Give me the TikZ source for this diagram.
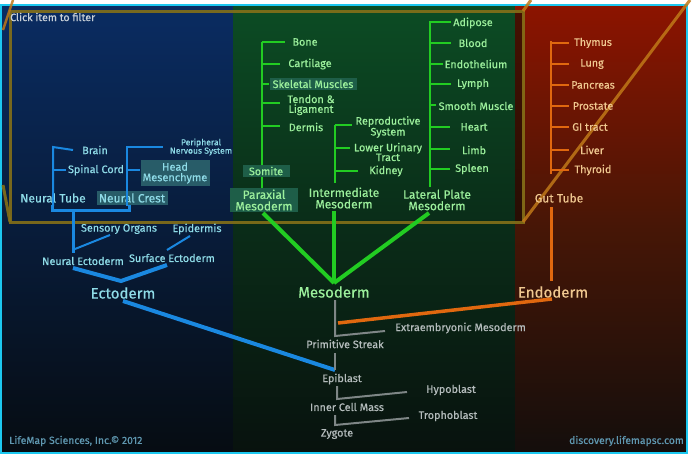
\documentclass[tikz,border=0pt]{standalone}
\usepackage{fontspec}
\setmainfont{Fira Sans}[FakeBold=0.5]
\definecolor{ecT}{HTML}{8FDCE8}
\definecolor{ecL}{HTML}{1A88E0}
\definecolor{meT}{HTML}{9CF09C}
\definecolor{meL}{HTML}{22CC22}
\definecolor{enT}{HTML}{F0C890}
\definecolor{enL}{HTML}{E0680F}
\definecolor{grT}{HTML}{B4BCBC}
\definecolor{grL}{HTML}{7E8686}
\definecolor{frameC}{HTML}{1CC8F0}
\definecolor{olive}{HTML}{857018}
\definecolor{diag}{HTML}{C07818}
\definecolor{ecBox}{HTML}{285C68}
\definecolor{meBox}{HTML}{1E5E48}
\definecolor{footC}{HTML}{5F97B0}
\tikzset{
  lab/.style={inner sep=1pt, font=\fontsize{10.8}{10.5}\selectfont, align=center},
  ect/.style={lab, text=ecT},
  met/.style={lab, text=meT},
  ent/.style={lab, text=enT},
  grt/.style={lab, text=grT},
  mid/.style={font=\fontsize{12}{11.5}\selectfont},
  big/.style={inner sep=1pt, font=\fontsize{15}{15}\selectfont},
  ebox/.style={fill=ecBox, inner sep=2pt},
  mbox/.style={fill=meBox, inner sep=2pt},
  eline/.style={draw=ecL, line width=2pt},
  ethick/.style={draw=ecL, line width=4pt},
  mline/.style={draw=meL, line width=2pt},
  mthick/.style={draw=meL, line width=4pt},
  nline/.style={draw=enL, line width=2pt},
  nthick/.style={draw=enL, line width=3.5pt},
  gline/.style={draw=grL, line width=2pt},
}
\begin{document}
\begin{tikzpicture}[x=1pt,y=-1pt]
\useasboundingbox (0,0) rectangle (692,455);
\fill[white] (0,0) rectangle (692,455);
% panels
\shade[top color={rgb,255:red,10;green,44;blue,98}, bottom color={rgb,255:red,6;green,12;blue,18}, middle color={rgb,255:red,8;green,28;blue,58}] (2,6) rectangle (233,452);
\shade[top color={rgb,255:red,12;green,76;blue,36}, bottom color={rgb,255:red,8;green,18;blue,14}, middle color={rgb,255:red,10;green,44;blue,24}] (233,6) rectangle (515,452);
\shade[top color={rgb,255:red,140;green,20;blue,0}, bottom color={rgb,255:red,20;green,14;blue,12}, middle color={rgb,255:red,70;green,22;blue,6}] (515,6) rectangle (686,452);
\shade[top color={rgb,255:red,70;green,16;blue,2}, bottom color={rgb,255:red,40;green,14;blue,4}] (515,10) rectangle (523,222);
\draw[frameC, line width=2pt] (1,5) rectangle (687,453);
% zoom rectangle and perspective lines
\draw[olive, opacity=0.9, line width=3pt] (10,11) rectangle (523,222);
\draw[diag, opacity=0.85, line width=3pt] (523,222) -- (690,0);
\draw[diag, opacity=0.85, line width=3pt] (523,11) -- (531,0);
\draw[diag, opacity=0.85, line width=2.5pt] (13,0) -- (3,30);
\draw[olive, opacity=0.9, line width=3pt] (10,222) -- (3,185);
\node[anchor=west, inner sep=0pt, text={rgb,255:red,200;green,208;blue,216}, font=\fontsize{10.6}{10}\selectfont] (click) at (10,17) {Click item to filter};

% ================= ECTODERM =================
\node[ect] (brain) at (95,150) {Brain};
\node[ect] (spinal) at (96,170) {Spinal Cord};
\node[ect, font=\fontsize{8.6}{8.4}\selectfont] (pns) at (201,147) {Peripheral\\Nervous System};
\node[ect, ebox, font=\fontsize{11}{10.5}\selectfont, minimum width=69pt] (headm) at (175,173) {Head\\Mesenchyme};
\node[ect, mid] (ntube) at (53,198) {Neural Tube};
\node[ect, mid, ebox, minimum width=71pt] (ncrest) at (132,198) {Neural Crest};
\node[ect] (sensory) at (119,229) {Sensory Organs};
\node[ect] (epid) at (197,229) {Epidermis};
\node[ect] (nect) at (83,261) {Neural Ectoderm};
\node[ect] (sect) at (172,258) {Surface Ectoderm};
\node[big, text=ecT] (ecto) at (123,293) {Ectoderm};

\coordinate (ntTop) at (53,147);
\coordinate (ntBot) at (53,206);
\draw[eline] (ntBot) -- (ntTop) -- (brain.west -| 73,0);
\draw[eline] (53,170) -- (66,170);
\coordinate (ncTop) at (127,147);
\coordinate (ncBot) at (127,206);
\draw[eline] (ncBot) -- (ncTop) -- (163,147);
\draw[eline] (127,170) -- (headm.west |- 0,170);
\draw[draw=ecL, line width=3pt] (52,205) -- (52,210) -- (129,210) -- (129,205);
\coordinate (brk) at (73,210);
\draw[draw=ecL, line width=3pt] (brk) -- (73,253);
\draw[eline] (75,249) -- (110,235);
\draw[eline] (167,250) -- (190,236);
\coordinate (ecJ) at (121,281);
\draw[ethick] (73,268) -- (ecJ) -- (167,265);
\coordinate (epiJ) at (335,370);
\draw[ethick] (123,301) -- (epiJ);

% ================= MESODERM =================
\coordinate (paTop) at (262,42);
\draw[mline] (paTop) -- (262,188);
\node[met] (bone) at (305,42) {Bone};
\node[met] (cart) at (310,64) {Cartilage};
\node[met, mbox, inner sep=1.5pt, minimum width=87pt] (skel) at (313,84) {Skeletal Muscles};
\node[met, font=\fontsize{10.8}{9.8}\selectfont] (tendon) at (311,105) {Tendon \&\\Ligament};
\node[met] (dermis) at (306,127) {Dermis};
\draw[mline] (262,42) -- (285,42);
\draw[mline] (262,64) -- (280,64);
\draw[mline] (262,84) -- (skel.west);
\draw[mline] (262,103) -- (280,103);
\draw[mline] (262,126) -- (280,126);
\node[met, mbox, inner sep=1.5pt, minimum width=47pt] (somite) at (266,171) {Somite};
\node[met, mid, mbox, inner sep=1.5pt, minimum width=68pt] (para) at (264,200) {Paraxial\\Mesoderm};

\draw[mline] (335,125) -- (335,183);
\node[met, font=\fontsize{10.8}{9.8}\selectfont] (repro) at (388,127) {Reproductive\\System};
\node[met, font=\fontsize{10.8}{9.8}\selectfont] (lut) at (388,152) {Lower Urinary\\Tract};
\node[met] (kidney) at (386,171) {Kidney};
\draw[mline] (335,125) -- (352,125);
\draw[mline] (335,148) -- (350,148);
\draw[mline] (335,171) -- (358,171);
\node[met, mid] (inter) at (344,198) {Intermediate\\Mesoderm};

\draw[mline] (430,21) -- (430,187);
\node[met] (adip) at (473,23) {Adipose};
\node[met] (blood) at (473,43) {Blood};
\node[met] (endo) at (476,64) {Endothelium};
\node[met] (lymph) at (473,84) {Lymph};
\node[met] (smooth) at (476,106) {Smooth Muscle};
\node[met] (heart) at (474,127) {Heart};
\node[met] (limb) at (474,150) {Limb};
\node[met] (spleen) at (472,169) {Spleen};
\draw[mline] (430,22) -- (451,22);
\draw[mline] (430,43) -- (451,43);
\draw[mline] (430,64) -- (443,64);
\draw[mline] (430,84) -- (451,84);
\draw[mline] (430,105) -- (436,105);
\draw[mline] (430,127) -- (450,127);
\draw[mline] (430,149) -- (450,149);
\draw[mline] (430,169) -- (450,169);
\node[met, mid] (lat) at (437,200) {Lateral Plate\\Mesoderm};

\coordinate (meJ) at (334,283);
\draw[mthick] (263,213) -- (meJ);
\draw[mthick] (334,211) -- (meJ);
\draw[mthick] (429,213) -- (meJ);
\node[big, text=meT] (meso) at (334,292) {Mesoderm};

% ================= ENDODERM =================
\draw[nline] (551,41) -- (551,174);
\node[ent] (thymus) at (593,43) {Thymus};
\node[ent] (lung) at (592,64) {Lung};
\node[ent] (panc) at (593,85) {Pancreas};
\node[ent] (prost) at (593,106) {Prostate};
\node[ent] (gi) at (590,127) {GI tract};
\node[ent] (liver) at (592,150) {Liver};
\node[ent] (thyr) at (593,170) {Thyroid};
\foreach \yy in {43,64,85,106,127,150,170} \draw[nline] (551,\yy) -- (569,\yy);
\node[ent, mid] (gut) at (559,198) {Gut Tube};
\draw[draw=enL, line width=3pt] (551,207) -- (551,281);
\node[big, text=enT] (endoderm) at (553,292) {Endoderm};
\coordinate (psJ) at (338,323);
\draw[nthick] (552,299) -- (psJ);

% ================= EARLY STAGES =================
\draw[gline] (335,300) -- (335,336) -- (385,331);
\node[grt, anchor=west] (extra) at (394,328) {Extraembryonic Mesoderm};
\node[grt] (ps) at (345,344) {Primitive Streak};
\draw[gline] (335,353) -- (epiJ);
\node[grt] (epi) at (342,379) {Epiblast};
\draw[gline] (337,386) -- (337,399) -- (407,392);
\node[grt] (hypo) at (451,390) {Hypoblast};
\node[grt] (icm) at (347,407) {Inner Cell Mass};
\draw[gline] (335,415) -- (335,425) -- (409,418);
\node[grt] (troph) at (448,416) {Trophoblast};
\node[grt] (zyg) at (337,434) {Zygote};

% footer
\node[anchor=west, inner sep=0pt, text=footC, font=\fontsize{10.4}{10}\selectfont] (lm) at (9,441) {LifeMap Sciences, Inc.© 2012};
\node[anchor=east, inner sep=0pt, text=footC, font=\fontsize{10.4}{10}\selectfont] (disc) at (684,441) {discovery.lifemapsc.com};
\end{tikzpicture}
\end{document}
